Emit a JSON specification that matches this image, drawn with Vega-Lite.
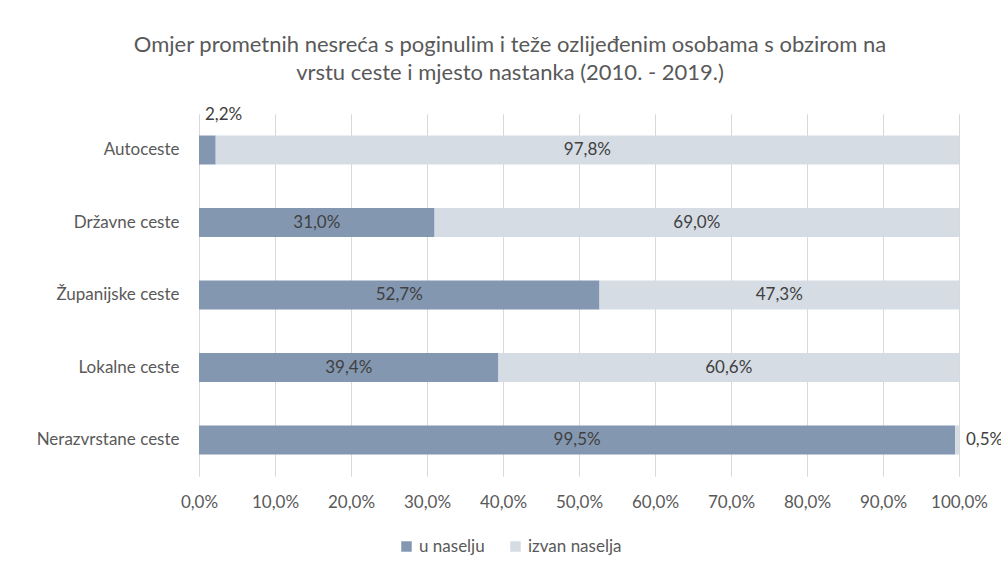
{
  "$schema": "https://vega.github.io/schema/vega-lite/v6.json",
  "width": 760,
  "height": 362.5,
  "autosize": {"type": "none"},
  "padding": {"left": 199, "top": 113.75, "right": 42, "bottom": 97.75},
  "background": "white",
  "title": {
    "text": ["Omjer prometnih nesreća s poginulim i teže ozlijeđenim osobama s obzirom na", "vrstu ceste i mjesto nastanka (2010. - 2019.)"],
    "anchor": "middle",
    "frame": "group",
    "dx": -69,
    "offset": 21,
    "font": "Lato",
    "fontSize": 22,
    "fontWeight": "normal",
    "color": "#595959",
    "lineHeight": 28
  },
  "data": {
    "values": [
      {"cesta": "Autoceste", "mjesto": "u naselju", "red": 1, "vrijednost": 2.2, "oznaka": "2,2%"},
      {"cesta": "Autoceste", "mjesto": "izvan naselja", "red": 2, "vrijednost": 97.8, "oznaka": "97,8%"},
      {"cesta": "Državne ceste", "mjesto": "u naselju", "red": 1, "vrijednost": 31.0, "oznaka": "31,0%"},
      {"cesta": "Državne ceste", "mjesto": "izvan naselja", "red": 2, "vrijednost": 69.0, "oznaka": "69,0%"},
      {"cesta": "Županijske ceste", "mjesto": "u naselju", "red": 1, "vrijednost": 52.7, "oznaka": "52,7%"},
      {"cesta": "Županijske ceste", "mjesto": "izvan naselja", "red": 2, "vrijednost": 47.3, "oznaka": "47,3%"},
      {"cesta": "Lokalne ceste", "mjesto": "u naselju", "red": 1, "vrijednost": 39.4, "oznaka": "39,4%"},
      {"cesta": "Lokalne ceste", "mjesto": "izvan naselja", "red": 2, "vrijednost": 60.6, "oznaka": "60,6%"},
      {"cesta": "Nerazvrstane ceste", "mjesto": "u naselju", "red": 1, "vrijednost": 99.5, "oznaka": "99,5%"},
      {"cesta": "Nerazvrstane ceste", "mjesto": "izvan naselja", "red": 2, "vrijednost": 0.5, "oznaka": "0,5%"}
    ]
  },
  "encoding": {
    "y": {
      "field": "cesta",
      "type": "nominal",
      "sort": ["Autoceste", "Državne ceste", "Županijske ceste", "Lokalne ceste", "Nerazvrstane ceste"],
      "title": null,
      "axis": {
        "ticks": false,
        "domain": false,
        "grid": false,
        "labelPadding": 20,
        "labelFont": "Lato",
        "labelFontSize": 17,
        "labelColor": "#595959"
      }
    }
  },
  "layer": [
    {
      "mark": {"type": "bar", "size": 29},
      "encoding": {
        "x": {
          "field": "vrijednost",
          "type": "quantitative",
          "stack": "zero",
          "scale": {"domain": [0, 100], "nice": false},
          "title": null,
          "axis": {
            "values": [0, 10, 20, 30, 40, 50, 60, 70, 80, 90, 100],
            "labelExpr": "replace(format(datum.value, '.1f'), '.', ',') + '%'",
            "labelOverlap": false,
            "labelBound": false,
            "labelFlush": false,
            "ticks": false,
            "domain": false,
            "grid": true,
            "gridColor": "#D9D9D9",
            "gridWidth": 1,
            "labelPadding": 18,
            "labelFont": "Lato",
            "labelFontSize": 17,
            "labelColor": "#595959"
          }
        },
        "color": {
          "field": "mjesto",
          "type": "nominal",
          "sort": ["u naselju", "izvan naselja"],
          "scale": {"domain": ["u naselju", "izvan naselja"], "range": ["#8497B0", "#D6DCE4"]},
          "title": null,
          "legend": {
            "orient": "none",
            "direction": "horizontal",
            "legendX": 199,
            "legendY": 424,
            "symbolType": "square",
            "symbolSize": 110,
            "symbolStrokeWidth": 0,
            "labelFont": "Lato",
            "labelFontSize": 17,
            "labelColor": "#595959",
            "labelOffset": 4,
            "columnPadding": 22
          }
        },
        "order": {"field": "red", "type": "quantitative"}
      }
    },
    {
      "mark": {"type": "text", "font": "Lato", "fontSize": 17, "color": "#404040", "align": "center", "baseline": "middle"},
      "encoding": {
        "x": {"field": "vrijednost", "type": "quantitative", "stack": "zero", "bandPosition": 0.5},
        "order": {"field": "red", "type": "quantitative"},
        "text": {"condition": {"test": "datum.vrijednost < 3", "value": ""}, "field": "oznaka"}
      }
    },
    {
      "transform": [{"filter": "datum.cesta == 'Autoceste' && datum.mjesto == 'u naselju'"}],
      "mark": {"type": "text", "font": "Lato", "fontSize": 17, "color": "#404040", "align": "left", "baseline": "middle", "dx": 6, "dy": -35},
      "encoding": {
        "x": {"datum": 0, "type": "quantitative"},
        "text": {"field": "oznaka"}
      }
    },
    {
      "transform": [{"filter": "datum.cesta == 'Nerazvrstane ceste' && datum.mjesto == 'izvan naselja'"}],
      "mark": {"type": "text", "font": "Lato", "fontSize": 17, "color": "#404040", "align": "left", "baseline": "middle", "dx": 7},
      "encoding": {
        "x": {"datum": 100, "type": "quantitative"},
        "text": {"field": "oznaka"}
      }
    }
  ],
  "config": {
    "view": {"stroke": null}
  }
}
